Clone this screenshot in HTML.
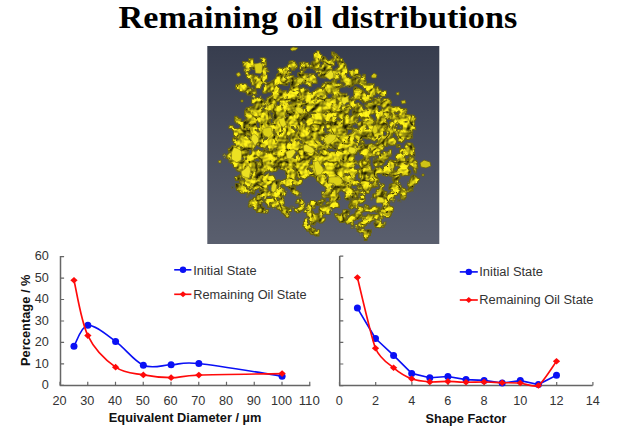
<!DOCTYPE html>
<html><head><meta charset="utf-8"><title>Remaining oil distributions</title>
<style>html,body{margin:0;padding:0;background:#fff;overflow:hidden}svg{display:block}</style></head>
<body><svg width="621" height="434" viewBox="0 0 621 434">
<rect width="621" height="434" fill="#ffffff"/>
<defs>
<linearGradient id="bg" x1="0" y1="0" x2="0" y2="1"><stop offset="0" stop-color="#373d4e"/><stop offset="1" stop-color="#5a5f6e"/></linearGradient>
<linearGradient id="dg" gradientUnits="userSpaceOnUse" x1="0" y1="52" x2="0" y2="236"><stop offset="0" stop-color="#000" stop-opacity="0.74"/><stop offset="0.45" stop-color="#000" stop-opacity="0.83"/><stop offset="1" stop-color="#000" stop-opacity="0.75"/></linearGradient>
<mask id="hm" maskUnits="userSpaceOnUse" x="207" y="46" width="233" height="198"><rect x="207" y="46" width="233" height="198" fill="#fff"/><ellipse cx="271" cy="73" rx="4" ry="6" fill="#000"/><ellipse cx="303" cy="66" rx="3" ry="5" fill="#000"/><ellipse cx="262" cy="92" rx="4" ry="3" fill="#000"/><ellipse cx="318" cy="84" rx="4" ry="3" fill="#000"/><ellipse cx="350" cy="92" rx="3" ry="4" fill="#000"/><ellipse cx="281" cy="176" rx="6" ry="6" fill="#000"/><ellipse cx="311" cy="190" rx="9" ry="12" fill="#000"/><ellipse cx="325" cy="126" rx="3" ry="3" fill="#000"/><ellipse cx="345" cy="205" rx="5" ry="4" fill="#000"/><ellipse cx="290" cy="200" rx="4" ry="4" fill="#000"/><ellipse cx="372" cy="200" rx="4" ry="5" fill="#000"/><ellipse cx="395" cy="150" rx="3" ry="5" fill="#000"/><ellipse cx="385" cy="180" rx="4" ry="4" fill="#000"/><ellipse cx="405" cy="180" rx="4" ry="4" fill="#000"/></mask>
<filter id="bf" x="207" y="46" width="233" height="198" filterUnits="userSpaceOnUse" color-interpolation-filters="sRGB">
 <feGaussianBlur in="SourceAlpha" stdDeviation="3" result="D"/>
 <feTurbulence type="fractalNoise" baseFrequency="0.13" numOctaves="4" seed="7" result="T"/>
 <feColorMatrix in="T" type="matrix" values="0 0 0 0 1  0 0 0 0 1  0 0 0 0 1  1 0 0 0 0" result="N"/>
 <feComposite in="D" in2="N" operator="arithmetic" k1="0" k2="0.67" k3="1" k4="-0.5" result="S"/>
 <feComponentTransfer in="S" result="M"><feFuncA type="linear" slope="14" intercept="-6.6"/></feComponentTransfer>
 <feTurbulence type="fractalNoise" baseFrequency="0.085" numOctaves="3" seed="11" result="T2"/>
 <feColorMatrix in="T2" type="matrix" values="0 0 0 0 1  0 0 0 0 1  0 0 0 0 1  0 1 0 0 0" result="H"/>
 <feDiffuseLighting in="H" surfaceScale="5.5" diffuseConstant="1.16" lighting-color="#e2d616" result="L"><feDistantLight azimuth="225" elevation="58"/></feDiffuseLighting>
 <feTurbulence type="turbulence" baseFrequency="0.08" numOctaves="2" seed="23" result="T3"/>
 <feColorMatrix in="T3" type="matrix" values="3.8 0 0 0 0.28  3.8 0 0 0 0.27  3.8 0 0 0 0.12  0 0 0 0 1" result="V"/>
 <feBlend in="L" in2="V" mode="multiply" result="LV"/>
 <feComposite in="LV" in2="M" operator="in" result="Y"/>
 <feMorphology in="M" operator="dilate" radius="0.6" result="MD"/>
 <feFlood flood-color="#6a6310" result="DK"/>
 <feComposite in="DK" in2="MD" operator="in" result="E"/>
 <feMerge result="R"><feMergeNode in="E"/><feMergeNode in="Y"/></feMerge>
 <feGaussianBlur in="R" stdDeviation="0.45"/>
</filter>
<filter id="sb" x="207" y="46" width="233" height="198" filterUnits="userSpaceOnUse"><feGaussianBlur stdDeviation="0.45"/></filter>
</defs>
<rect x="207.3" y="46" width="232" height="198" fill="url(#bg)"/>
<g filter="url(#bf)"><g mask="url(#hm)"><polygon points="241,74 244,63 249,58 256,62 262,59 268,65 267,71 275,76 282,66 286,60 295,59 298,66 303,71 307,60 308,53 314,51 324,56 330,57 337,54 341,62 346,65 353,69 359,73 363,78 369,83 378,86 384,88 390,92 388,103 392,106 400,107 408,112 414,119 416,128 415,137 412,145 415,152 416,160 418,175 417,184 414,189 407,195 399,201 391,211 388,214 390,220 385,224 373,226 371,232 365,237 358,235 357,228 353,223 346,223 337,218 334,211 328,211 324,220 321,232 314,236 305,232 303,223 307,213 298,207 295,211 285,217 282,211 275,207 266,209 256,213 251,207 253,197 243,194 237,188 234,184 240,179 237,172 235,167 229,163 225,155 224,150 232,147 237,145 239,136 232,131 229,126 234,121 243,114 250,110 253,103 250,95 243,92 235,90 234,85 241,83 250,84 254,78 247,77" fill="url(#dg)" stroke="url(#dg)" stroke-width="4" stroke-linejoin="round"/><polygon points="246,118 262,100 290,92 330,100 350,120 352,160 340,190 300,178 270,190 248,180 232,162 230,148" fill="#000" fill-opacity="0.7"/><polygon points="262,76 300,68 340,64 372,90 385,120 370,150 330,140 290,130 262,110" fill="#000" fill-opacity="0.22"/></g></g>
<g filter="url(#sb)"><polygon points="231.6,152.6 233.9,147.1 239.0,149.1 241.8,151.9 241.2,159.9 236.7,162.6 231.5,159.2" fill="#ece122" stroke="#8f8616" stroke-width="0.6" stroke-linejoin="round"/><polygon points="241.2,171.7 245.6,168.4 248.3,164.9 250.2,168.2 250.5,171.6 249.2,178.3 246.1,177.5 242.2,176.0" fill="#ece122" stroke="#8f8616" stroke-width="0.6" stroke-linejoin="round"/><polygon points="263.1,128.4 267.9,127.7 271.1,127.3 272.5,133.9 268.8,137.6 263.9,135.4 262.7,132.5" fill="#ddd218" stroke="#8f8616" stroke-width="0.6" stroke-linejoin="round"/><polygon points="286.5,155.6 285.7,151.7 290.2,150.2 293.9,149.3 295.6,152.2 292.5,156.8 290.4,158.9 286.9,158.4" fill="#ece122" stroke="#8f8616" stroke-width="0.6" stroke-linejoin="round"/><polygon points="303.8,151.1 303.5,145.6 306.4,144.3 312.9,148.0 314.7,151.1 311.3,153.6" fill="#ece122" stroke="#8f8616" stroke-width="0.6" stroke-linejoin="round"/><polygon points="336.5,134.9 335.7,138.8 331.1,142.8 327.1,145.0 323.5,138.8 329.9,134.1" fill="#e2d71a" stroke="#8f8616" stroke-width="0.6" stroke-linejoin="round"/><polygon points="273.2,192.6 271.3,190.4 271.2,188.4 271.8,185.4 274.0,181.8 276.7,185.3 276.5,187.2 275.7,190.5" fill="#e2d71a" stroke="#8f8616" stroke-width="0.6" stroke-linejoin="round"/><polygon points="342.0,179.5 342.0,182.4 340.6,184.9 336.4,185.8 333.7,183.4 328.9,182.8 328.7,177.6 331.7,176.9 338.1,176.9" fill="#ddd218" stroke="#8f8616" stroke-width="0.6" stroke-linejoin="round"/><polygon points="260.2,62.8 262.5,64.7 262.1,71.6 260.8,73.5 255.5,73.1 254.8,67.4 254.1,64.3" fill="#ddd218" stroke="#8f8616" stroke-width="0.6" stroke-linejoin="round"/><polygon points="303.2,109.5 303.3,111.0 302.7,113.4 298.7,113.2 296.8,111.5 295.6,110.0 295.9,107.3 298.6,106.9 300.6,107.8" fill="#e8dd1e" stroke="#8f8616" stroke-width="0.6" stroke-linejoin="round"/><polygon points="347.9,98.0 349.0,101.8 346.6,102.5 344.0,105.2 342.0,102.6 341.4,99.8 342.3,97.0 345.0,97.3 349.2,95.8" fill="#ece122" stroke="#8f8616" stroke-width="0.6" stroke-linejoin="round"/><polygon points="314.0,161.9 318.2,160.6 320.3,164.7 322.5,167.3 323.5,170.4 320.8,174.5 316.7,175.3 315.3,171.1 314.3,166.9" fill="#e8dd1e" stroke="#8f8616" stroke-width="0.6" stroke-linejoin="round"/><polygon points="258.6,141.4 257.0,143.1 255.0,146.1 253.4,142.9 250.9,139.3 251.9,135.6 254.1,133.7 256.9,135.8 258.6,138.4" fill="#ece122" stroke="#8f8616" stroke-width="0.6" stroke-linejoin="round"/><polygon points="283.3,127.4 280.6,125.4 279.2,122.1 278.6,118.5 281.5,118.5 284.1,116.9 284.9,120.6 286.3,124.3" fill="#e8dd1e" stroke="#8f8616" stroke-width="0.6" stroke-linejoin="round"/><polygon points="351.9,154.0 347.9,151.4 349.1,146.5 353.2,147.4 356.4,148.8 355.0,152.9" fill="#ece122" stroke="#8f8616" stroke-width="0.6" stroke-linejoin="round"/><polygon points="377.0,132.3 374.9,134.2 373.5,133.2 372.3,130.4 373.1,127.7 373.7,126.1 375.4,124.8 377.3,127.5 377.5,131.0" fill="#ddd218" stroke="#8f8616" stroke-width="0.6" stroke-linejoin="round"/><polygon points="377.6,196.7 381.9,197.6 383.9,199.0 384.5,202.4 376.7,203.0 376.1,200.9" fill="#ece122" stroke="#8f8616" stroke-width="0.6" stroke-linejoin="round"/><polygon points="297.1,83.0 297.1,80.3 298.6,78.6 300.3,77.9 302.5,78.2 304.5,79.6 301.0,83.2" fill="#e2d71a" stroke="#8f8616" stroke-width="0.6" stroke-linejoin="round"/><polygon points="333.3,77.7 329.9,79.7 326.9,77.7 324.9,75.2 328.5,72.5 331.1,70.0 333.5,73.4" fill="#ece122" stroke="#8f8616" stroke-width="0.6" stroke-linejoin="round"/>
<polygon points="290,49 293,47 298,48 296,50 292,51" fill="#cfc316" stroke="#6a6210" stroke-width="0.8"/><polygon points="420,163 424,160 430,162 431,166 426,168 421,167" fill="#cfc316" stroke="#6a6210" stroke-width="0.8"/><polygon points="236,74 239,72 241,75 238,77" fill="#cfc316" stroke="#6a6210" stroke-width="0.8"/><polygon points="218,161 221,160 221,163 219,163" fill="#cfc316" stroke="#6a6210" stroke-width="0.8"/><polygon points="396,93 399,92 399,95 397,95" fill="#cfc316" stroke="#6a6210" stroke-width="0.8"/><polygon points="401,101 405,100 406,103 402,104" fill="#cfc316" stroke="#6a6210" stroke-width="0.8"/><polygon points="422,174 424,174 424,176 422,176" fill="#cfc316" stroke="#6a6210" stroke-width="0.8"/><polygon points="241,100 243,100 243,102 241,102" fill="#cfc316" stroke="#6a6210" stroke-width="0.8"/><polygon points="371,76 374,73 377,75 376,78 372,78" fill="#cfc316" stroke="#6a6210" stroke-width="0.8"/></g>

<path d="M60.5 256 V385.4 H310.3" fill="none" stroke="#666666" stroke-width="1.5"/>
<path d="M60.5 385.40 h3.6 M60.5 363.93 h3.6 M60.5 342.46 h3.6 M60.5 320.99 h3.6 M60.5 299.52 h3.6 M60.5 278.05 h3.6 M60.5 256.58 h3.6 M60.00 385.4 v-3.6 M87.75 385.4 v-3.6 M115.50 385.4 v-3.6 M143.25 385.4 v-3.6 M171.00 385.4 v-3.6 M198.75 385.4 v-3.6 M226.50 385.4 v-3.6 M254.25 385.4 v-3.6 M282.00 385.4 v-3.6 M309.75 385.4 v-3.6 " fill="none" stroke="#666666" stroke-width="1.2"/>
<path d="M73.97 346.32 C76.29 342.82 80.91 326.11 87.85 325.28 C94.79 324.46 106.35 334.73 115.60 341.39 C124.85 348.04 134.10 361.32 143.35 365.22 C152.60 369.12 161.85 365.08 171.10 364.79 C180.35 364.50 180.35 361.60 198.85 363.50 C217.35 365.40 268.23 374.06 282.10 376.17" fill="none" stroke="#0a10f5" stroke-width="1.65" stroke-linejoin="round"/>
<circle cx="73.97" cy="346.32" r="3.50" fill="#0a10f5"/><circle cx="87.85" cy="325.28" r="3.50" fill="#0a10f5"/><circle cx="115.60" cy="341.39" r="3.50" fill="#0a10f5"/><circle cx="143.35" cy="365.22" r="3.50" fill="#0a10f5"/><circle cx="171.10" cy="364.79" r="3.50" fill="#0a10f5"/><circle cx="198.85" cy="363.50" r="3.50" fill="#0a10f5"/><circle cx="282.10" cy="376.17" r="3.50" fill="#0a10f5"/>
<path d="M73.97 280.20 C76.29 289.43 80.91 321.10 87.85 335.59 C94.79 350.08 106.35 360.60 115.60 367.15 C124.85 373.70 134.10 373.13 143.35 374.88 C152.60 376.63 161.85 377.64 171.10 377.67 C180.35 377.71 180.35 375.77 198.85 375.09 C217.35 374.41 268.23 373.84 282.10 373.59" fill="none" stroke="#ff0a0a" stroke-width="1.65" stroke-linejoin="round"/>
<path d="M73.97 276.90 l3.63 3.30 l-3.63 3.30 l-3.63 -3.30 z" fill="#ff0a0a"/><path d="M87.85 332.29 l3.63 3.30 l-3.63 3.30 l-3.63 -3.30 z" fill="#ff0a0a"/><path d="M115.60 363.85 l3.63 3.30 l-3.63 3.30 l-3.63 -3.30 z" fill="#ff0a0a"/><path d="M143.35 371.58 l3.63 3.30 l-3.63 3.30 l-3.63 -3.30 z" fill="#ff0a0a"/><path d="M171.10 374.37 l3.63 3.30 l-3.63 3.30 l-3.63 -3.30 z" fill="#ff0a0a"/><path d="M198.85 371.79 l3.63 3.30 l-3.63 3.30 l-3.63 -3.30 z" fill="#ff0a0a"/><path d="M282.10 370.29 l3.63 3.30 l-3.63 3.30 l-3.63 -3.30 z" fill="#ff0a0a"/>
<text x="41.75" y="389.20" textLength="7.05" lengthAdjust="spacingAndGlyphs" font-family="'Liberation Sans', sans-serif" font-size="12.00"  fill="#333333">0</text>
<text x="34.70" y="367.73" textLength="14.10" lengthAdjust="spacingAndGlyphs" font-family="'Liberation Sans', sans-serif" font-size="12.00"  fill="#333333">10</text>
<text x="34.70" y="346.26" textLength="14.10" lengthAdjust="spacingAndGlyphs" font-family="'Liberation Sans', sans-serif" font-size="12.00"  fill="#333333">20</text>
<text x="34.70" y="324.79" textLength="14.10" lengthAdjust="spacingAndGlyphs" font-family="'Liberation Sans', sans-serif" font-size="12.00"  fill="#333333">30</text>
<text x="34.70" y="303.32" textLength="14.10" lengthAdjust="spacingAndGlyphs" font-family="'Liberation Sans', sans-serif" font-size="12.00"  fill="#333333">40</text>
<text x="34.70" y="281.85" textLength="14.10" lengthAdjust="spacingAndGlyphs" font-family="'Liberation Sans', sans-serif" font-size="12.00"  fill="#333333">50</text>
<text x="34.70" y="260.38" textLength="14.10" lengthAdjust="spacingAndGlyphs" font-family="'Liberation Sans', sans-serif" font-size="12.00"  fill="#333333">60</text>
<text x="52.45" y="405.20" textLength="14.10" lengthAdjust="spacingAndGlyphs" font-family="'Liberation Sans', sans-serif" font-size="12.00"  fill="#333333">20</text>
<text x="80.20" y="405.20" textLength="14.10" lengthAdjust="spacingAndGlyphs" font-family="'Liberation Sans', sans-serif" font-size="12.00"  fill="#333333">30</text>
<text x="107.95" y="405.20" textLength="14.10" lengthAdjust="spacingAndGlyphs" font-family="'Liberation Sans', sans-serif" font-size="12.00"  fill="#333333">40</text>
<text x="135.70" y="405.20" textLength="14.10" lengthAdjust="spacingAndGlyphs" font-family="'Liberation Sans', sans-serif" font-size="12.00"  fill="#333333">50</text>
<text x="163.45" y="405.20" textLength="14.10" lengthAdjust="spacingAndGlyphs" font-family="'Liberation Sans', sans-serif" font-size="12.00"  fill="#333333">60</text>
<text x="191.20" y="405.20" textLength="14.10" lengthAdjust="spacingAndGlyphs" font-family="'Liberation Sans', sans-serif" font-size="12.00"  fill="#333333">70</text>
<text x="218.95" y="405.20" textLength="14.10" lengthAdjust="spacingAndGlyphs" font-family="'Liberation Sans', sans-serif" font-size="12.00"  fill="#333333">80</text>
<text x="246.70" y="405.20" textLength="14.10" lengthAdjust="spacingAndGlyphs" font-family="'Liberation Sans', sans-serif" font-size="12.00"  fill="#333333">90</text>
<text x="270.93" y="405.20" textLength="21.15" lengthAdjust="spacingAndGlyphs" font-family="'Liberation Sans', sans-serif" font-size="12.00"  fill="#333333">100</text>
<text x="298.68" y="405.20" textLength="21.15" lengthAdjust="spacingAndGlyphs" font-family="'Liberation Sans', sans-serif" font-size="12.00"  fill="#333333">110</text>
<text x="108.80" y="422.00" textLength="152.50" lengthAdjust="spacingAndGlyphs" font-family="'Liberation Sans', sans-serif" font-size="12.00" font-weight="bold" fill="#111">Equivalent Diameter / µm</text>
<g transform="translate(30.3 366) rotate(-90)"><text x="0.00" y="0.00" textLength="91.50" lengthAdjust="spacingAndGlyphs" font-family="'Liberation Sans', sans-serif" font-size="12.40" font-weight="bold" fill="#111">Percentage / %</text></g>
<path d="M174.2 269.8 H191.4" stroke="#0a10f5" stroke-width="1.65"/><circle cx="183.00" cy="269.80" r="3.20" fill="#0a10f5"/>
<path d="M174.2 294.3 H191.4" stroke="#ff0a0a" stroke-width="1.65"/><path d="M183.00 291.30 l3.30 3.00 l-3.30 3.00 l-3.30 -3.00 z" fill="#ff0a0a"/>
<text x="193.20" y="274.50" textLength="63.40" lengthAdjust="spacingAndGlyphs" font-family="'Liberation Sans', sans-serif" font-size="12.00"  fill="#333333">Initial State</text>
<text x="193.20" y="299.00" textLength="113.40" lengthAdjust="spacingAndGlyphs" font-family="'Liberation Sans', sans-serif" font-size="12.00"  fill="#333333">Remaining Oil State</text>
<path d="M339.7 256 V385.6 H592.7" fill="none" stroke="#666666" stroke-width="1.5"/>
<path d="M339.7 385.60 h3.6 M339.7 364.02 h3.6 M339.7 342.44 h3.6 M339.7 320.86 h3.6 M339.7 299.28 h3.6 M339.7 277.70 h3.6 M339.7 256.12 h3.6 M339.50 385.6 v-3.6 M375.70 385.6 v-3.6 M411.90 385.6 v-3.6 M448.10 385.6 v-3.6 M484.30 385.6 v-3.6 M520.50 385.6 v-3.6 M556.70 385.6 v-3.6 M592.90 385.6 v-3.6 " fill="none" stroke="#666666" stroke-width="1.2"/>
<path d="M357.40 308.10 L375.50 338.50 L393.60 355.40 L411.70 373.40 L429.80 377.80 L447.90 376.50 L466.00 379.60 L484.10 380.40 L502.20 383.00 L520.30 380.60 L538.40 384.50 L556.50 375.20" fill="none" stroke="#0a10f5" stroke-width="1.65" stroke-linejoin="round"/>
<circle cx="357.40" cy="308.10" r="3.50" fill="#0a10f5"/><circle cx="375.50" cy="338.50" r="3.50" fill="#0a10f5"/><circle cx="393.60" cy="355.40" r="3.50" fill="#0a10f5"/><circle cx="411.70" cy="373.40" r="3.50" fill="#0a10f5"/><circle cx="429.80" cy="377.80" r="3.50" fill="#0a10f5"/><circle cx="447.90" cy="376.50" r="3.50" fill="#0a10f5"/><circle cx="466.00" cy="379.60" r="3.50" fill="#0a10f5"/><circle cx="484.10" cy="380.40" r="3.50" fill="#0a10f5"/><circle cx="502.20" cy="383.00" r="3.50" fill="#0a10f5"/><circle cx="520.30" cy="380.60" r="3.50" fill="#0a10f5"/><circle cx="538.40" cy="384.50" r="3.50" fill="#0a10f5"/><circle cx="556.50" cy="375.20" r="3.50" fill="#0a10f5"/>
<path d="M357.40 277.50 C359.57 285.98 371.16 337.36 375.50 348.20 C379.84 359.04 389.26 364.13 393.60 367.80 C397.94 371.47 407.36 377.11 411.70 378.80 C416.04 380.49 425.46 381.59 429.80 381.90 C434.14 382.21 443.56 381.36 447.90 381.40 C452.24 381.44 461.66 382.13 466.00 382.20 C470.34 382.27 479.76 381.94 484.10 382.00 C488.44 382.06 497.86 382.58 502.20 382.70 C506.54 382.82 515.96 382.66 520.30 383.00 C524.64 383.34 534.06 388.10 538.40 385.50 C542.74 382.90 554.33 364.20 556.50 361.30" fill="none" stroke="#ff0a0a" stroke-width="1.65" stroke-linejoin="round"/>
<path d="M357.40 274.20 l3.63 3.30 l-3.63 3.30 l-3.63 -3.30 z" fill="#ff0a0a"/><path d="M375.50 344.90 l3.63 3.30 l-3.63 3.30 l-3.63 -3.30 z" fill="#ff0a0a"/><path d="M393.60 364.50 l3.63 3.30 l-3.63 3.30 l-3.63 -3.30 z" fill="#ff0a0a"/><path d="M411.70 375.50 l3.63 3.30 l-3.63 3.30 l-3.63 -3.30 z" fill="#ff0a0a"/><path d="M429.80 378.60 l3.63 3.30 l-3.63 3.30 l-3.63 -3.30 z" fill="#ff0a0a"/><path d="M447.90 378.10 l3.63 3.30 l-3.63 3.30 l-3.63 -3.30 z" fill="#ff0a0a"/><path d="M466.00 378.90 l3.63 3.30 l-3.63 3.30 l-3.63 -3.30 z" fill="#ff0a0a"/><path d="M484.10 378.70 l3.63 3.30 l-3.63 3.30 l-3.63 -3.30 z" fill="#ff0a0a"/><path d="M502.20 379.40 l3.63 3.30 l-3.63 3.30 l-3.63 -3.30 z" fill="#ff0a0a"/><path d="M520.30 379.70 l3.63 3.30 l-3.63 3.30 l-3.63 -3.30 z" fill="#ff0a0a"/><path d="M538.40 382.20 l3.63 3.30 l-3.63 3.30 l-3.63 -3.30 z" fill="#ff0a0a"/><path d="M556.50 358.00 l3.63 3.30 l-3.63 3.30 l-3.63 -3.30 z" fill="#ff0a0a"/>
<text x="335.78" y="405.20" textLength="7.05" lengthAdjust="spacingAndGlyphs" font-family="'Liberation Sans', sans-serif" font-size="12.00"  fill="#333333">0</text>
<text x="371.98" y="405.20" textLength="7.05" lengthAdjust="spacingAndGlyphs" font-family="'Liberation Sans', sans-serif" font-size="12.00"  fill="#333333">2</text>
<text x="408.18" y="405.20" textLength="7.05" lengthAdjust="spacingAndGlyphs" font-family="'Liberation Sans', sans-serif" font-size="12.00"  fill="#333333">4</text>
<text x="444.38" y="405.20" textLength="7.05" lengthAdjust="spacingAndGlyphs" font-family="'Liberation Sans', sans-serif" font-size="12.00"  fill="#333333">6</text>
<text x="480.58" y="405.20" textLength="7.05" lengthAdjust="spacingAndGlyphs" font-family="'Liberation Sans', sans-serif" font-size="12.00"  fill="#333333">8</text>
<text x="513.25" y="405.20" textLength="14.10" lengthAdjust="spacingAndGlyphs" font-family="'Liberation Sans', sans-serif" font-size="12.00"  fill="#333333">10</text>
<text x="549.45" y="405.20" textLength="14.10" lengthAdjust="spacingAndGlyphs" font-family="'Liberation Sans', sans-serif" font-size="12.00"  fill="#333333">12</text>
<text x="585.65" y="405.20" textLength="14.10" lengthAdjust="spacingAndGlyphs" font-family="'Liberation Sans', sans-serif" font-size="12.00"  fill="#333333">14</text>
<text x="425.60" y="422.60" textLength="80.80" lengthAdjust="spacingAndGlyphs" font-family="'Liberation Sans', sans-serif" font-size="12.00" font-weight="bold" fill="#111">Shape Factor</text>
<path d="M459.8 271.9 H477.8" stroke="#0a10f5" stroke-width="1.65"/><circle cx="468.80" cy="271.90" r="3.20" fill="#0a10f5"/>
<path d="M459.8 300 H477.8" stroke="#ff0a0a" stroke-width="1.65"/><path d="M468.80 297.00 l3.30 3.00 l-3.30 3.00 l-3.30 -3.00 z" fill="#ff0a0a"/>
<text x="479.30" y="276.30" textLength="63.70" lengthAdjust="spacingAndGlyphs" font-family="'Liberation Sans', sans-serif" font-size="12.00"  fill="#333333">Initial State</text>
<text x="479.30" y="304.10" textLength="114.20" lengthAdjust="spacingAndGlyphs" font-family="'Liberation Sans', sans-serif" font-size="12.00"  fill="#333333">Remaining Oil State</text>
<text x="118.60" y="28.20" textLength="398.60" lengthAdjust="spacingAndGlyphs" font-family="'Liberation Serif', serif" font-size="31.60" font-weight="bold" fill="#000">Remaining oil distributions</text>
</svg></body></html>
